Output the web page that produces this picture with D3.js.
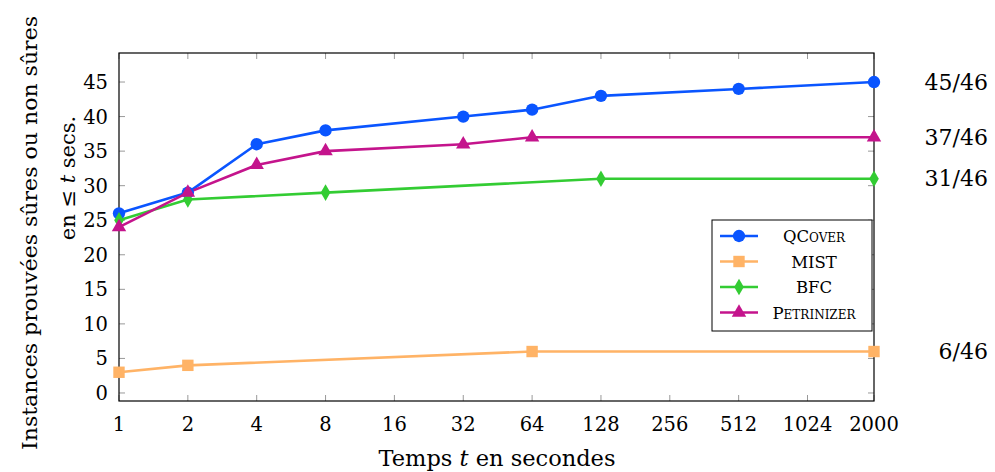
<!DOCTYPE html>
<html><head><meta charset="utf-8">
<script src="https://cdn.jsdelivr.net/npm/d3@7"></script>
<style>
body{margin:0;background:#fff;}
</style></head>
<body><svg id="c" width="995" height="472" font-family="'DejaVu Serif', 'Liberation Serif', serif"></svg>
<script>
const xTicks = [1,2,4,8,16,32,64,128,256,512,1024,2000];
const yTicks = [0,5,10,15,20,25,30,35,40,45];
const qcoverX = [1,2,4,8,32,64,128,512,2000];
const qcoverY = [26,29,36,38,40,41,43,44,45];
const mistX = [1,2,64,2000];
const mistY = [3,4,6,6];
const bfcX = [1,2,8,128,2000];
const bfcY = [25,28,29,31,31];
const petriX = [1,2,4,8,32,64,2000];
const petriY = [24,29,33,35,36,37,37];
const seriesNames = ["QCover","MIST","BFC","Petrinizer"];
const finalLabels = ["45/46","37/46","31/46","6/46"];
const finalValues = [45,37,31,6];

const colors = {QCover:"#0a55ff", MIST:"#ffb366", BFC:"#33cc33", Petrinizer:"#c4148c"};
const symbols = {QCover:d3.symbolCircle, MIST:d3.symbolSquare, BFC:d3.symbolDiamond, Petrinizer:d3.symbolTriangle};
const symSize = {QCover:120, MIST:130, BFC:80, Petrinizer:90};

const series = [
  {name:"QCover", pts:qcoverX.map((x,i)=>[x,qcoverY[i]])},
  {name:"MIST", pts:mistX.map((x,i)=>[x,mistY[i]])},
  {name:"BFC", pts:bfcX.map((x,i)=>[x,bfcY[i]])},
  {name:"Petrinizer", pts:petriX.map((x,i)=>[x,petriY[i]])}
];

const L=119, R=874, T=53, B=401;
const svg = d3.select("#c");
const x = d3.scaleLog().base(2).domain([1,2000]).range([L,R]);
const y = d3.scaleLinear().domain([-1.16,49.2]).range([B,T]);

const tickCol="#999";
const g = svg.append("g");
xTicks.forEach(t=>{
  g.append("line").attr("x1",x(t)).attr("x2",x(t)).attr("y1",B).attr("y2",B-6).attr("stroke",tickCol);
  g.append("line").attr("x1",x(t)).attr("x2",x(t)).attr("y1",T).attr("y2",T+6).attr("stroke",tickCol);
});
yTicks.forEach(t=>{
  g.append("line").attr("x1",L).attr("x2",L+6).attr("y1",y(t)).attr("y2",y(t)).attr("stroke",tickCol);
  g.append("line").attr("x1",R).attr("x2",R-6).attr("y1",y(t)).attr("y2",y(t)).attr("stroke",tickCol);
});
svg.append("rect").attr("x",L).attr("y",T).attr("width",R-L).attr("height",B-T).attr("fill","none").attr("stroke","#000").attr("stroke-width",1.2);

svg.append("g").selectAll("text").data(xTicks).join("text")
  .attr("x",d=>x(d)).attr("y",431).attr("text-anchor","middle").attr("font-size",19.5).text(d=>d);
svg.append("g").selectAll("text").data(yTicks).join("text")
  .attr("x",108).attr("y",d=>y(d)+7).attr("text-anchor","end").attr("font-size",19.5).text(d=>d);

const xl = svg.append("text").attr("x",497).attr("y",466).attr("text-anchor","middle").attr("font-size",22)
  .attr("textLength",237).attr("lengthAdjust","spacingAndGlyphs");
xl.append("tspan").text("Temps ");
xl.append("tspan").attr("font-style","italic").text("t");
xl.append("tspan").text(" en secondes");

svg.append("text").attr("transform","translate(37,233) rotate(-90)").attr("text-anchor","middle").attr("font-size",21)
  .attr("textLength",434).attr("lengthAdjust","spacingAndGlyphs")
  .text("Instances prouvées sûres ou non sûres");
const yl2 = svg.append("text").attr("transform","translate(75,178) rotate(-90)").attr("text-anchor","middle").attr("font-size",21);
yl2.append("tspan").text("en ≤ ");
yl2.append("tspan").attr("font-style","italic").text("t");
yl2.append("tspan").text(" secs.");

const line = d3.line().x(d=>x(d[0])).y(d=>y(d[1]));
series.forEach(s=>{
  svg.append("path").attr("d",line(s.pts)).attr("fill","none").attr("stroke",colors[s.name]).attr("stroke-width",2.6).attr("stroke-linejoin","round");
});
series.forEach(s=>{
  svg.append("g").selectAll("path").data(s.pts).join("path")
    .attr("transform",d=>`translate(${x(d[0])},${y(d[1])})`)
    .attr("d",d3.symbol().type(symbols[s.name]).size(symSize[s.name]))
    .attr("fill",colors[s.name]);
});

svg.append("g").selectAll("text").data(finalLabels).join("text")
  .attr("x",988).attr("y",(d,i)=>y(finalValues[i])+7.5).attr("text-anchor","end").attr("font-size",22).text(d=>d);

const lg = svg.append("g");
lg.append("rect").attr("x",712).attr("y",220).attr("width",160).attr("height",111).attr("fill","#fff").attr("stroke","#000").attr("stroke-width",1);
seriesNames.forEach((n,i)=>{
  const yy = 236 + i*25.5;
  lg.append("line").attr("x1",720).attr("x2",758).attr("y1",yy).attr("y2",yy).attr("stroke",colors[n]).attr("stroke-width",2.6);
  lg.append("path").attr("transform",`translate(739,${yy})`).attr("d",d3.symbol().type(symbols[n]).size(symSize[n])).attr("fill",colors[n]);
  const t = lg.append("text").attr("x",814).attr("y",yy+6).attr("text-anchor","middle").attr("font-size",16.5).text(n);
  if(n==="QCover"||n==="Petrinizer") t.attr("font-variant","small-caps");
});
</script></body></html>
